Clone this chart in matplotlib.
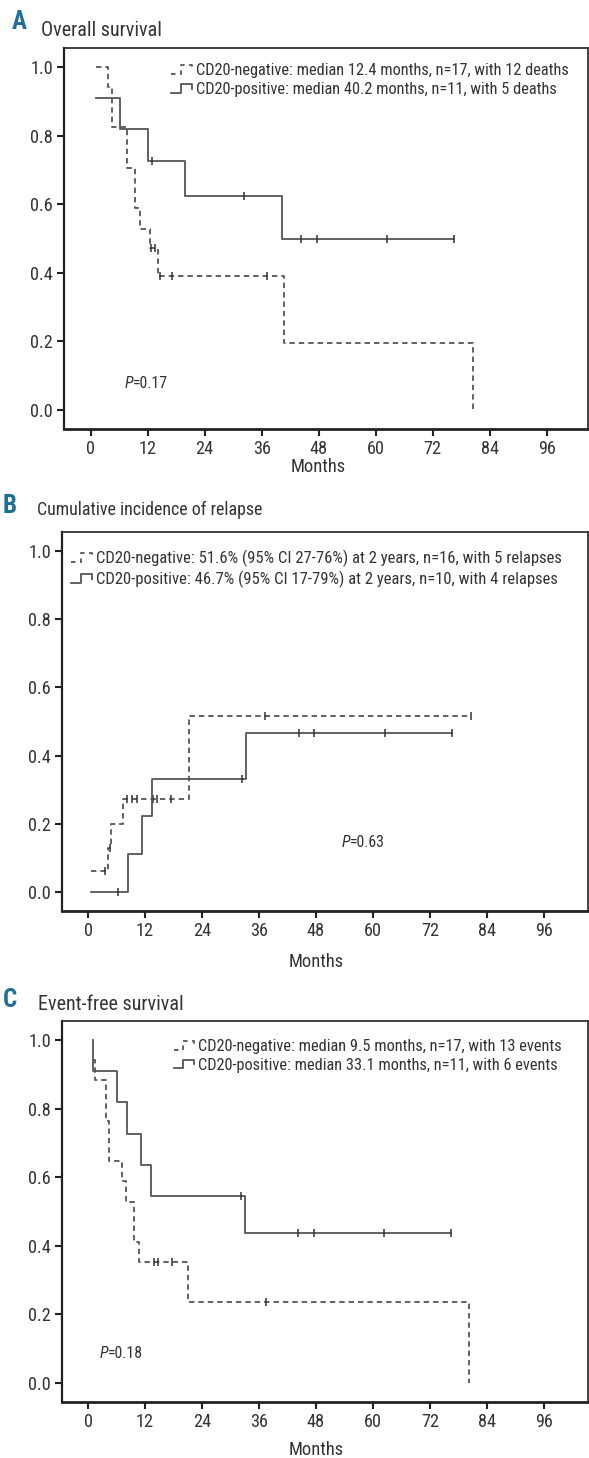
import numpy as np
import matplotlib
matplotlib.use("Agg")
import matplotlib.pyplot as plt
from matplotlib import font_manager
from matplotlib.lines import Line2D
from matplotlib.legend_handler import HandlerBase
import matplotlib.transforms as mtransforms

# ---------------- data ----------------
months_ticks = [0, 12, 24, 36, 48, 60, 72, 84, 96]
y_ticks = [0.0, 0.2, 0.4, 0.6, 0.8, 1.0]

# A: Overall survival
A_neg_t = [1.1, 3.6, 4.6, 7.7, 9.3, 10.5, 12.5, 14.2, 40.7, 80.5]
A_neg_s = [1.0, 0.941, 0.824, 0.706, 0.588, 0.529, 0.471, 0.392, 0.196, 0.0]
A_neg_end = 80.5
A_neg_cens = [12.8, 13.5, 14.7, 17.1, 37.2]
A_pos_t = [1.1, 6.1, 12.0, 19.9, 40.2]
A_pos_s = [0.909, 0.818, 0.727, 0.625, 0.5]
A_pos_end = 76.5
A_pos_cens = [12.9, 32.3, 44.2, 47.6, 62.4, 76.5]

# B: Cumulative incidence of relapse
B_neg_t = [0.6, 4.2, 4.8, 7.3, 21.3]
B_neg_s = [0.0625, 0.129, 0.2, 0.273, 0.516]
B_neg_end = 80.7
B_neg_cens = [3.6, 4.6, 8.2, 9.3, 10.4, 13.6, 14.6, 17.5, 37.3, 80.7]
B_pos_t = [0.6, 8.5, 11.3, 13.4, 33.2]
B_pos_s = [0.0, 0.111, 0.222, 0.333, 0.467]
B_pos_end = 76.6
B_pos_cens = [6.3, 32.5, 44.5, 47.6, 62.6, 76.6]

# C: Event-free survival
C_neg_t = [1.0, 1.4, 3.7, 4.5, 7.1, 8.0, 9.6, 10.7, 21.1, 80.3]
C_neg_s = [0.941, 0.882, 0.765, 0.647, 0.588, 0.529, 0.412, 0.353, 0.235, 0.0]
C_neg_end = 80.3
C_neg_cens = [13.9, 14.7, 17.6, 37.4]
C_pos_t = [1.0, 1.0, 6.1, 8.1, 11.1, 13.2, 33.1]
C_pos_s = [1.0, 0.909, 0.818, 0.727, 0.636, 0.545, 0.436]
C_pos_end = 76.4
C_pos_cens = [32.3, 44.3, 47.5, 62.4, 76.4]

titles = ["Overall survival", "Cumulative incidence of relapse", "Event-free survival"]
letters = ["A", "B", "C"]
legend_labels = [
    ["CD20-negative: median 12.4 months, n=17, with 12 deaths",
     "CD20-positive: median 40.2 months, n=11, with 5 deaths"],
    ["CD20-negative: 51.6% (95% CI 27-76%) at 2 years, n=16, with 5 relapses",
     "CD20-positive: 46.7% (95% CI 17-79%) at 2 years, n=10, with 4 relapses"],
    ["CD20-negative: median 9.5 months, n=17, with 13 events",
     "CD20-positive: median 33.1 months, n=11, with 6 events"],
]
p_values = ["0.17", "0.63", "0.18"]

# ---------------- fonts ----------------
flist = font_manager.fontManager.ttflist
names = {f.name for f in flist}
FONT, STRETCH = None, "normal"
for cand in ["Liberation Sans Narrow", "Arial Narrow", "Roboto Condensed",
             "Noto Sans Condensed", "Open Sans Condensed", "DejaVu Sans Condensed"]:
    if cand in names:
        FONT = cand
        break
if FONT is None:
    for fam in ["Liberation Sans", "Roboto", "Noto Sans", "Open Sans", "DejaVu Sans"]:
        cond = [f for f in flist if f.name == fam and
                (str(f.stretch) in ("condensed", "semi-condensed", "extra-condensed")
                 or (isinstance(f.stretch, int) and f.stretch < 500))]
        if cond:
            FONT, STRETCH = fam, "condensed"
            break
if FONT is None:
    FONT = "Liberation Sans" if "Liberation Sans" in names else "DejaVu Sans"

plt.rcParams["font.family"] = [FONT, "DejaVu Sans"]
plt.rcParams["font.stretch"] = STRETCH

W, H = 589, 1458
fig = plt.figure(figsize=(W / 100, H / 100), dpi=100)
fig.canvas.draw()
renderer = fig.canvas.get_renderer()

TXT = "#333333"
LINE = "#555555"
TEAL = "#1f6f99"


def text_width(s, fs, **kw):
    t = fig.text(0, 0, s, fontsize=fs, **kw)
    w = t.get_window_extent(renderer).width
    t.remove()
    return w


def fit_fs(s, target, base, cap=1.15, **kw):
    w = text_width(s, base, **kw)
    return base * min(cap, target / w)


def px_rect(left, top, right, bottom):
    return [left / W, 1 - bottom / H, (right - left) / W, (bottom - top) / H]


class StepHandler(HandlerBase):
    def create_artists(self, legend, orig_handle, xdescent, ydescent,
                       width, height, fontsize, trans):
        fx = np.array([0.0, 0.45, 0.45, 0.95, 0.95])
        fy = np.array([0.1, 0.1, 0.85, 0.85, 0.45])
        ln = Line2D(fx * width - xdescent, fy * height - ydescent,
                    color=orig_handle.get_color(), lw=orig_handle.get_linewidth())
        if orig_handle.get_linestyle() in ("--", "dashed"):
            ln.set_linestyle("--")
            ln.set_dashes((2.5, 2.5))
        ln.set_transform(trans)
        return [ln]


def step_value(t, s, x):
    idx = np.searchsorted(np.asarray(t), np.asarray(x), side="right") - 1
    idx = np.clip(idx, 0, len(s) - 1)
    return np.asarray(s)[idx]


def draw_curve(ax, t, s, end, cens, dashed):
    xs = list(t) + ([end] if end > t[-1] else [])
    ys = list(s) + ([s[-1]] if end > t[-1] else [])
    ln, = ax.step(xs, ys, where="post", color=LINE, lw=1.3,
                  linestyle="--" if dashed else "-")
    if dashed:
        ln.set_dashes((3, 2.2))
    cv = step_value(t, s, cens)
    ax.plot(cens, cv, linestyle="none", marker="|", ms=5.5, mew=1.1, color="#333333")
    return ln


panels = [
    dict(rect=px_rect(64, 48, 588, 429), xlim=(-5.6, 104.7),
         neg=(A_neg_t, A_neg_s, A_neg_end, A_neg_cens),
         pos=(A_pos_t, A_pos_s, A_pos_end, A_pos_cens),
         leg_anchor=(0.205, 0.960), leg_w=374, p_xy=(7.2, 0.078), xlab_y=-0.10,
         title_xy=(41, 31), title_w=127, letter_xy=(12, 22)),
    dict(rect=px_rect(62, 532, 588, 911), xlim=(-5.5, 105.3),
         neg=(B_neg_t, B_neg_s, B_neg_end, B_neg_cens),
         pos=(B_pos_t, B_pos_s, B_pos_end, B_pos_cens),
         leg_anchor=(0.018, 0.953), leg_w=466, p_xy=(53.3, 0.146), xlab_y=-0.135,
         title_xy=(37, 510), title_w=225, letter_xy=(3, 506)),
    dict(rect=px_rect(62, 1021, 588, 1402), xlim=(-5.5, 105.3),
         neg=(C_neg_t, C_neg_s, C_neg_end, C_neg_cens),
         pos=(C_pos_t, C_pos_s, C_pos_end, C_pos_cens),
         leg_anchor=(0.212, 0.953), leg_w=365, p_xy=(2.4, 0.087), xlab_y=-0.127,
         title_xy=(38, 1005), title_w=155, letter_xy=(3, 1000)),
]

tick_fs = fit_fs("0.8", 23, 14, cap=1.0)
tick_fs = max(tick_fs, 12.5)
months_fs = fit_fs("Months", 55, 13.5, cap=1.0)
p_fs = fit_fs("P=0.17", 44, 12, cap=1.0)

for i, pnl in enumerate(panels):
    ax = fig.add_axes(pnl["rect"])
    h_neg = draw_curve(ax, *pnl["neg"], dashed=True)
    h_pos = draw_curve(ax, *pnl["pos"], dashed=False)
    ax.set_xlim(*pnl["xlim"])
    ax.set_ylim(-0.055, 1.055)
    ax.set_xticks(months_ticks)
    ax.set_xticklabels([str(m) for m in months_ticks])
    ax.set_yticks(y_ticks)
    ax.set_yticklabels([f"{v:.1f}" for v in y_ticks])
    ax.tick_params(direction="out", length=5, width=1.5, colors="#222222",
                   labelsize=tick_fs, labelcolor=TXT, pad=3)
    for side in ["top", "right"]:
        ax.spines[side].set_linewidth(1.3)
        ax.spines[side].set_color("#333333")
    ax.spines["left"].set_linewidth(1.6)
    ax.spines["left"].set_color("#222222")
    ax.spines["bottom"].set_linewidth(2.0)
    ax.spines["bottom"].set_color("#222222")

    leg_fs = fit_fs(legend_labels[i][0], pnl["leg_w"], 11.5, cap=1.05)
    leg = ax.legend([h_neg, h_pos], legend_labels[i], loc="upper left",
                    bbox_to_anchor=pnl["leg_anchor"], frameon=False,
                    fontsize=leg_fs, handlelength=22 / (leg_fs * 100 / 72),
                    handletextpad=0.15, labelspacing=0.22,
                    borderpad=0, borderaxespad=0,
                    handler_map={h_neg: StepHandler(), h_pos: StepHandler()})
    for t in leg.get_texts():
        t.set_color(TXT)

    # P value: italic P followed by "=value"
    pt = ax.text(pnl["p_xy"][0], pnl["p_xy"][1], "P", fontsize=p_fs, color=TXT,
                 ha="left", va="center", style="italic")
    pw = pt.get_window_extent(renderer).width
    off = mtransforms.ScaledTranslation(pw / 100, 0, fig.dpi_scale_trans)
    ax.text(pnl["p_xy"][0], pnl["p_xy"][1], "=" + p_values[i], fontsize=p_fs,
            color=TXT, ha="left", va="center", transform=ax.transData + off)

    trans = mtransforms.blended_transform_factory(ax.transData, ax.transAxes)
    ax.text(48, pnl["xlab_y"], "Months", transform=trans, ha="center",
            va="center", fontsize=months_fs, color=TXT)

    tx, ty = pnl["title_xy"]
    t_fs = fit_fs(titles[i], pnl["title_w"], 14.5, cap=1.0)
    fig.text(tx / W, 1 - ty / H, titles[i], fontsize=t_fs, color=TXT,
             ha="left", va="center")
    lx, ly = pnl["letter_xy"]
    fig.text(lx / W, 1 - ly / H, letters[i], fontsize=18, color=TEAL,
             fontweight="bold", ha="left", va="center")

fig.savefig("out.png", dpi=100)
